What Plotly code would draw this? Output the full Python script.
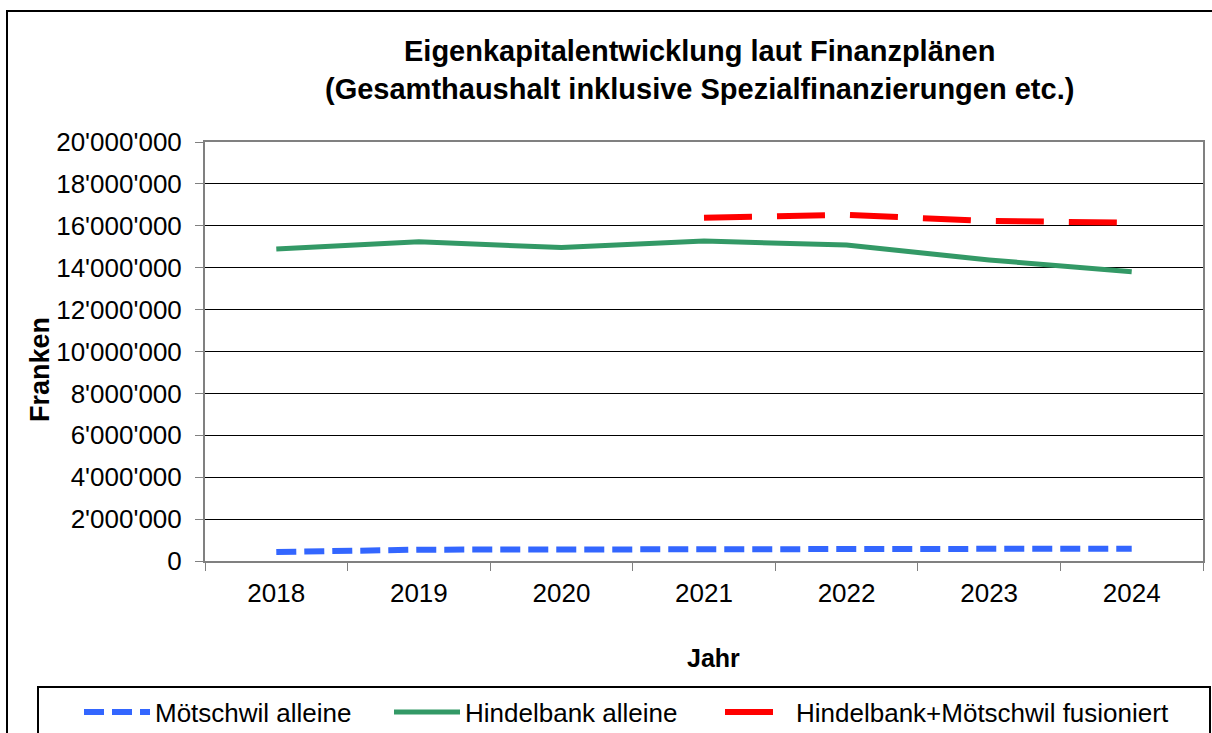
import plotly.graph_objects as go

years = ["2018", "2019", "2020", "2021", "2022", "2023", "2024"]
moetschwil = [430000, 540000, 550000, 550000, 550000, 560000, 590000]
hindelbank = [14890000, 15240000, 14960000, 15270000, 15080000, 14370000, 13810000]
fusioniert = [None, None, None, 16390000, 16520000, 16230000, 16150000]

names = ["Mötschwil alleine", "Hindelbank alleine", "Hindelbank+Mötschwil fusioniert"]
title_lines = ["Eigenkapitalentwicklung laut Finanzplänen",
               "(Gesamthaushalt inklusive Spezialfinanzierungen etc.)"]

FONT = "Liberation Sans, Arial, sans-serif"

W, H = 1212, 733
L, R, T, B = 205, 1203, 142, 561
PW, PH = R - L, B - T


def px(x):
    return (x - L) / PW


def py(y):
    return (B - y) / PH


fig = go.Figure()
fig.add_trace(go.Scatter(x=years, y=moetschwil, mode="lines", name=names[0],
                         line=dict(color="#3366FF", width=6, dash="20px,8px"),
                         legend="legend"))
fig.add_trace(go.Scatter(x=years, y=hindelbank, mode="lines", name=names[1],
                         line=dict(color="#339966", width=5),
                         legend="legend2"))
fig.add_trace(go.Scatter(x=years, y=fusioniert, mode="lines", name=names[2],
                         line=dict(color="#FF0000", width=6, dash="48px,25px"),
                         legend="legend3"))

legend_common = dict(orientation="h", yanchor="middle", xanchor="left",
                     font=dict(family=FONT, size=26, color="#000"),
                     bgcolor="rgba(0,0,0,0)", itemwidth=66)
fig.update_layout(
    width=W, height=H,
    margin=dict(l=L, r=W - R, t=T, b=H - B, autoexpand=False),
    paper_bgcolor="white", plot_bgcolor="white",
    separators=".'",
    font=dict(family=FONT, size=26, color="#000"),
    showlegend=True,
    legend=dict(x=px(79), y=py(712), **legend_common),
    legend2=dict(x=px(389), y=py(712), **legend_common),
    legend3=dict(x=px(720), y=py(712), **legend_common),
    xaxis=dict(type="category", range=[-0.5, 6.5], tickson="boundaries",
               ticks="outside", ticklen=8, tickcolor="#808080",
               showline=True, linecolor="#808080", linewidth=2, mirror=True,
               showgrid=False, tickfont=dict(size=26), ticklabelstandoff=8),
    yaxis=dict(range=[0, 20000000], dtick=2000000, tickformat=",d",
               ticks="outside", ticklen=8, tickcolor="#808080",
               showline=True, linecolor="#808080", linewidth=2, mirror=True,
               showgrid=True, gridcolor="#000000", gridwidth=1,
               zeroline=False, tickfont=dict(size=26), ticklabelstandoff=8),
)

fig.add_annotation(xref="paper", yref="paper", x=px(699), y=py(70),
                   text="<b>" + title_lines[0] + "<br>" + title_lines[1] + "</b>",
                   showarrow=False, xanchor="center", yanchor="middle",
                   font=dict(family=FONT, size=29, color="#000"))
fig.add_annotation(xref="paper", yref="paper", x=px(40), y=py(370),
                   text="<b>Franken</b>", textangle=-90, showarrow=False,
                   xanchor="center", yanchor="middle",
                   font=dict(family=FONT, size=27, color="#000"))
fig.add_annotation(xref="paper", yref="paper", x=px(713), y=py(658),
                   text="<b>Jahr</b>", showarrow=False,
                   xanchor="center", yanchor="middle",
                   font=dict(family=FONT, size=25, color="#000"))

# outer chart border and legend box
fig.add_shape(type="rect", xref="paper", yref="paper",
              x0=px(7), x1=px(1240), y0=py(760), y1=py(11),
              line=dict(color="#000", width=2), fillcolor="rgba(0,0,0,0)")
fig.add_shape(type="rect", xref="paper", yref="paper",
              x0=px(38), x1=px(1210), y0=py(760), y1=py(687),
              line=dict(color="#000", width=2), fillcolor="rgba(0,0,0,0)")

fig.write_html(
    "out.html",
    config={"displayModeBar": False},
    post_script="document.documentElement.style.margin='0';"
                "document.body.style.margin='0';"
                "document.body.style.overflow='hidden';",
)
